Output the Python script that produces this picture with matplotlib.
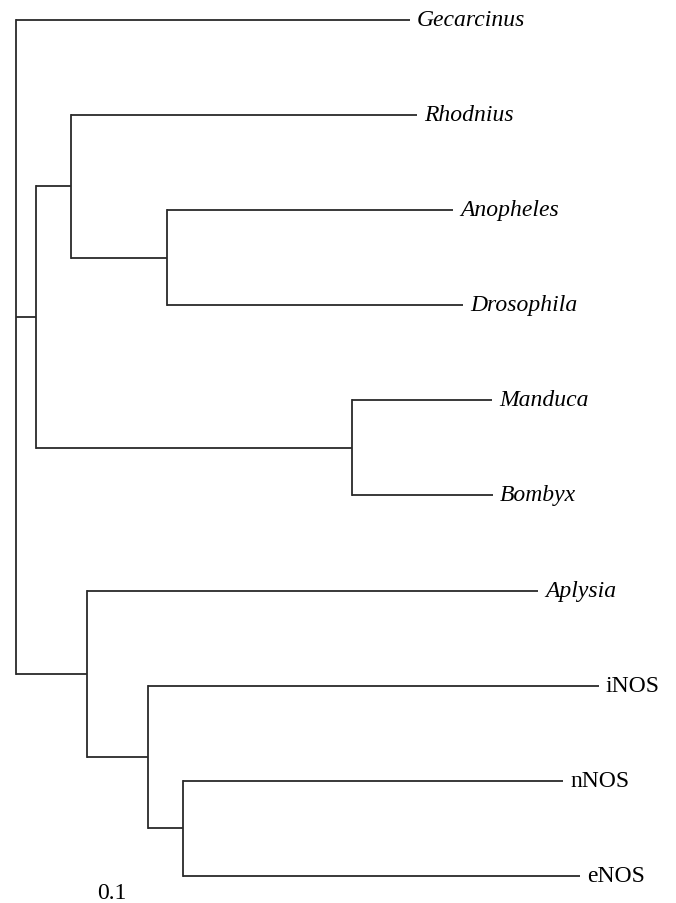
import matplotlib
matplotlib.use("Agg")
import matplotlib.pyplot as plt

# Tree definition (node, parent, branch length)
node_names = ['root', 'Gecarcinus', 'A', 'B', 'Rhodnius', 'C', 'Anopheles', 'Drosophila',
              'D', 'Manduca', 'Bombyx', 'E', 'Aplysia', 'F', 'iNOS', 'G', 'nNOS', 'eNOS']
parents = [None, 'root', 'root', 'A', 'B', 'B', 'C', 'C',
           'A', 'D', 'D', 'root', 'E', 'E', 'F', 'F', 'G', 'G']
branch_lengths = [0.0, 0.394, 0.020, 0.035, 0.346, 0.096, 0.286, 0.296,
                  0.316, 0.140, 0.141, 0.071, 0.451, 0.061, 0.451, 0.035, 0.380, 0.397]
italic_leaves = ['Gecarcinus', 'Rhodnius', 'Anopheles', 'Drosophila', 'Manduca', 'Bombyx', 'Aplysia']
scale_label = '0.1'

children = {n: [] for n in node_names}
blen = dict(zip(node_names, branch_lengths))
parent_of = dict(zip(node_names, parents))
for n, p in zip(node_names, parents):
    if p is not None:
        children[p].append(n)

# x positions (cumulative distance)
xpos = {}
def set_x(n, base):
    xpos[n] = base + blen[n]
    for c in children[n]:
        set_x(c, xpos[n])
set_x('root', 0.0)

# y positions: leaves in order, internals at midpoint of first/last child
ypos = {}
leaf_counter = [0]
def set_y(n):
    if not children[n]:
        ypos[n] = leaf_counter[0]
        leaf_counter[0] += 1
    else:
        for c in children[n]:
            set_y(c)
        ypos[n] = (ypos[children[n][0]] + ypos[children[n][-1]]) / 2.0
set_y('root')

fig = plt.figure(figsize=(6.76, 9.04), dpi=100)
ax = fig.add_axes([0, 0, 1, 1])
ax.set_xlim(-0.016, 0.660)
ax.set_ylim((904 - 21) / 95.1, -21 / 95.1)
ax.axis('off')

lc = '#2a2a2a'
lw = 1.3
for n in node_names:
    p = parent_of[n]
    if p is not None:
        ax.plot([xpos[p], xpos[n]], [ypos[n], ypos[n]], color=lc, lw=lw,
                solid_capstyle='butt')
    if children[n]:
        ys = [ypos[c] for c in children[n]]
        ax.plot([xpos[n], xpos[n]], [min(ys), max(ys)], color=lc, lw=lw,
                solid_capstyle='projecting')

font = 'Liberation Serif'
for n in node_names:
    if not children[n]:
        ax.annotate(n, (xpos[n], ypos[n]), xytext=(7, -5), textcoords='offset pixels',
                    ha='left', va='baseline', fontsize=17, family=font,
                    style='italic' if n in italic_leaves else 'normal', color='black')

ax.text(0.081, (899 - 21) / 95.1, scale_label, ha='left', va='baseline',
        fontsize=17, family=font, color='black')

fig.savefig('out.png', dpi=100)
